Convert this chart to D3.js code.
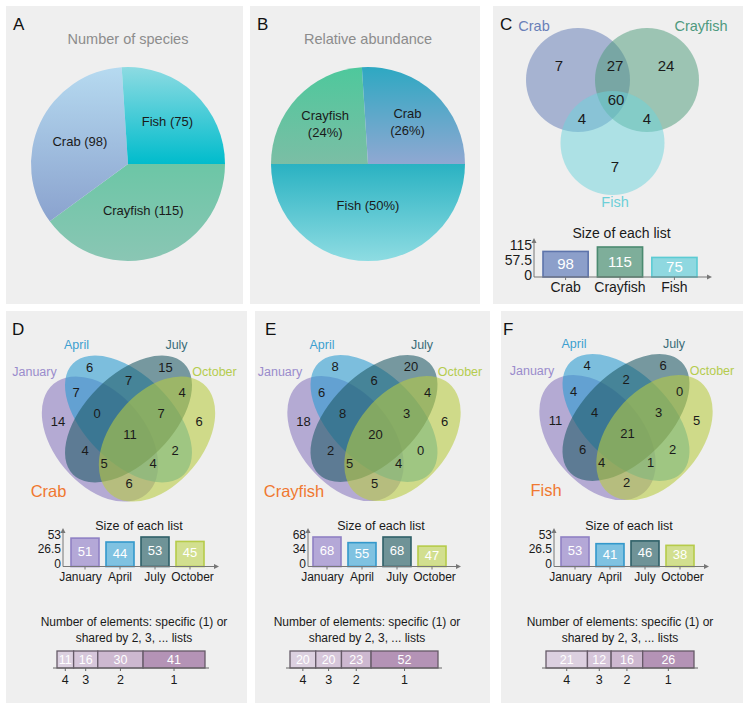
<!DOCTYPE html>
<html>
<head>
<meta charset="utf-8">
<title>Species Venn panels</title>
<script src="https://d3js.org/d3.v7.min.js"></script>
<style>
  body { margin: 0; background: #fff; }
  svg { display: block; font-family: "Liberation Sans", Arial, Helvetica, sans-serif; }
</style>
</head>
<body>
<svg width="749" height="711"></svg>
<script>
// ---------- data ----------
const species = ["Crab", "Crayfish", "Fish"];
const speciesCount = [98, 115, 75];
const abundance = [26, 24, 50];          // percent
const months = ["January", "April", "July", "October"];

// 3-set Venn (C): crab only, crab&crayfish, crayfish only, all, crab&fish, crayfish&fish, fish only
const vennC = [7, 27, 24, 60, 4, 4, 7];
const sizeTicksC = [0, 57.5, 115];

// 4-set Venn regions, in this order:
// Apr, Jul, Apr&Jul, Jan, Jan&Apr, Jul&Oct, Oct, Jan&Apr&Jul, Apr&Jul&Oct,
// all four, Jan&Jul, Apr&Oct, Jan&Jul&Oct, Jan&Apr&Oct, Jan&Oct
const crabVenn     = [6, 15, 7, 14, 7, 4, 6, 0, 7, 11, 4, 2, 5, 4, 6];
const crayfishVenn = [8, 20, 6, 18, 6, 4, 6, 8, 3, 20, 2, 0, 5, 4, 5];
const fishVenn     = [4, 6, 2, 11, 4, 0, 5, 4, 3, 21, 6, 2, 4, 1, 2];

const crabSizes = [51, 44, 53, 45];
const crayfishSizes = [68, 55, 68, 47];
const fishSizes = [53, 41, 46, 38];
const crabTicks = [0, 26.5, 53];
const crayfishTicks = [0, 34, 68];
const fishTicks = [0, 26.5, 53];

const sharedBy = ["4", "3", "2", "1"];
const crabShared = [11, 16, 30, 41];
const crayfishShared = [20, 20, 23, 52];
const fishShared = [21, 12, 16, 26];

// ---------- styling ----------
const monthText = ["#9a8ccc", "#3d9fd0", "#3b6c78", "#b5cc4e"];
const monthFill = ["#8a78c0", "#2a9bd0", "#1f5a66", "#b8cc40"];
const monthBar = ["#b4a8d7", "#7fc2e1", "#6f9397", "#d2df8f"];
const monthBarStroke = ["#8f80c4", "#3498cb", "#2f6068", "#b6cb4a"];
const sharedFill = ["#dcd0e0", "#d6c6da", "#cdb8d0", "#b493b6"];

const svg = d3.select("svg");
const defs = svg.append("defs");

// panel backgrounds
const panels = [
  {id: "A", x: 6, y: 6, w: 237, h: 298, lx: 13},
  {id: "B", x: 250, y: 6, w: 230, h: 298, lx: 257},
  {id: "C", x: 493, y: 6, w: 250, h: 298, lx: 500},
  {id: "D", x: 6, y: 311, w: 241, h: 392, lx: 12},
  {id: "E", x: 255, y: 311, w: 235, h: 392, lx: 265},
  {id: "F", x: 501, y: 311, w: 242, h: 392, lx: 503}
];
svg.selectAll("rect.panel").data(panels).enter().append("rect")
  .attr("class", "panel")
  .attr("x", d => d.x).attr("y", d => d.y)
  .attr("width", d => d.w).attr("height", d => d.h)
  .attr("fill", "#efefef");
svg.selectAll("text.plabel").data(panels).enter().append("text")
  .attr("class", "plabel")
  .attr("x", d => d.lx).attr("y", d => d.y + 24)
  .attr("font-size", 17).attr("fill", "#111")
  .text(d => d.id);

// ---------- pies (A, B) ----------
function sectorCentroid(d, r) {
  const a = d.endAngle - d.startAngle, m = (d.startAngle + d.endAngle) / 2;
  const dist = 4 * r * Math.sin(a / 2) / (3 * a);
  return [dist * Math.sin(m), -dist * Math.cos(m)];
}

function drawPie(o) {
  const g = svg.append("g").attr("transform", `translate(${o.cx},${o.cy})`);
  svg.append("text")
    .attr("x", o.cx).attr("y", 44)
    .attr("text-anchor", "middle").attr("font-size", 14.5).attr("fill", "#8c8c8c")
    .text(o.title);
  const pie = d3.pie().sort(null).value(d => d.v)
    .startAngle(Math.PI / 2).endAngle(Math.PI / 2 + 2 * Math.PI);
  const arc = d3.arc().innerRadius(0).outerRadius(o.r);
  const arcs = pie(o.items);
  arcs.forEach((d, i) => {
    const id = `${o.key}-grad-${i}`;
    const lg = defs.append("linearGradient").attr("id", id)
      .attr("x1", 0).attr("y1", 0).attr("x2", 0).attr("y2", 1);
    lg.append("stop").attr("offset", "0%").attr("stop-color", d.data.c[0]);
    lg.append("stop").attr("offset", "100%").attr("stop-color", d.data.c[1]);
  });
  g.selectAll("path").data(arcs).enter().append("path")
    .attr("d", arc)
    .attr("fill", (d, i) => `url(#${o.key}-grad-${i})`);
  arcs.forEach(d => {
    const [x, y] = sectorCentroid(d, o.r);
    const lines = d.data.lines;
    const t = g.append("text").attr("text-anchor", "middle")
      .attr("font-size", 13).attr("fill", "#1a1a1a");
    lines.forEach((ln, k) => {
      t.append("tspan").attr("x", x)
        .attr("y", y + 4.5 + (k - (lines.length - 1) / 2) * 17)
        .text(ln);
    });
  });
}

const pieAColors = {
  Crayfish: ["#6cc6a6", "#8ac6b4"],
  Crab: ["#b6daf0", "#8aa2ce"],
  Fish: ["#8ddbe2", "#00bccc"]
};
const orderA = ["Crayfish", "Crab", "Fish"];
drawPie({
  key: "pa", cx: 128, cy: 164, r: 97, title: "Number of species",
  items: orderA.map(n => {
    const v = speciesCount[species.indexOf(n)];
    return {v, c: pieAColors[n], lines: [`${n} (${v})`]};
  })
});

const pieBColors = {
  Fish: ["#2ab2c2", "#8edce2"],
  Crayfish: ["#4ec89c", "#7bbea5"],
  Crab: ["#2ea8c2", "#90a8d2"]
};
const orderB = ["Fish", "Crayfish", "Crab"];
drawPie({
  key: "pb", cx: 368, cy: 164, r: 97, title: "Relative abundance",
  items: orderB.map(n => {
    const v = abundance[species.indexOf(n)];
    return {v, c: pieBColors[n], lines: v >= 45 ? [`${n} (${v}%)`] : [n, `(${v}%)`]};
  })
});

// ---------- axes helper for the "size of each list" bar charts ----------
function arrowUp(g, x, y) {
  g.append("path").attr("d", `M${x - 2.5},${y + 5}L${x},${y}L${x + 2.5},${y + 5}Z`).attr("fill", "#777");
}
function arrowRight(g, x, y) {
  g.append("path").attr("d", `M${x - 5},${y - 2.5}L${x},${y}L${x - 5},${y + 2.5}Z`).attr("fill", "#777");
}

function sizeChart(o) {
  const g = svg.append("g");
  const x = d3.scaleBand().domain(o.names).range([o.barX, o.barEnd]).paddingInner(o.pad);
  const y = d3.scaleLinear().domain([0, d3.max(o.ticks)]).range([o.base, o.top]);
  const nudge = o.nudge || o.names.map(() => 0);
  g.append("text").attr("x", (o.barX + o.barEnd) / 2 + 1.5).attr("y", o.titleY)
    .attr("text-anchor", "middle").attr("font-size", o.titleFs).attr("fill", "#1a1a1a")
    .text("Size of each list");
  g.selectAll("rect").data(o.values).enter().append("rect")
    .attr("x", (d, i) => x(o.names[i]))
    .attr("y", d => y(d))
    .attr("width", x.bandwidth())
    .attr("height", d => o.base - y(d))
    .attr("fill", (d, i) => o.fills[i])
    .attr("stroke", (d, i) => o.strokes[i])
    .attr("stroke-width", 1.6);
  g.selectAll("text.val").data(o.values).enter().append("text")
    .attr("class", "val")
    .attr("x", (d, i) => x(o.names[i]) + x.bandwidth() / 2)
    .attr("y", d => (y(d) + o.base) / 2 - 1)
    .attr("dominant-baseline", "central")
    .attr("text-anchor", "middle").attr("font-size", o.valFs).attr("fill", "#fff")
    .text(d => d);
  // axes
  g.append("line").attr("x1", o.axisX).attr("x2", o.axisX)
    .attr("y1", o.base).attr("y2", o.top - 6).attr("stroke", "#777");
  arrowUp(g, o.axisX, o.top - 9);
  g.append("line").attr("x1", o.axisX).attr("x2", o.barEnd + 12)
    .attr("y1", o.base).attr("y2", o.base).attr("stroke", "#777");
  arrowRight(g, o.barEnd + 15, o.base);
  g.selectAll("line.tk").data(o.names).enter().append("line")
    .attr("class", "tk")
    .attr("x1", d => x(d) + x.bandwidth() / 2).attr("x2", d => x(d) + x.bandwidth() / 2)
    .attr("y1", o.base).attr("y2", o.base + 3).attr("stroke", "#777");
  g.selectAll("text.yt").data(o.ticks).enter().append("text")
    .attr("class", "yt")
    .attr("x", o.axisX - 2).attr("y", d => y(d) - 2.5)
    .attr("dominant-baseline", "central")
    .attr("text-anchor", "end").attr("font-size", o.tickFs).attr("fill", "#1a1a1a")
    .text(d => d);
  g.selectAll("text.xt").data(o.names).enter().append("text")
    .attr("class", "xt")
    .attr("x", (d, i) => x(d) + x.bandwidth() / 2 + nudge[i]).attr("y", o.base + o.catDy)
    .attr("text-anchor", "middle").attr("font-size", o.catFs).attr("fill", "#1a1a1a")
    .text(d => d);
}

// ---------- C: 3-set Venn ----------
const cColors = ["#5d78b4", "#4a9a78", "#6cd4dc"];
const cText = ["#6a80b8", "#4e9a7e", "#6dcfd8"];
const cCircles = [
  {cx: 578, cy: 80}, {cx: 647, cy: 80}, {cx: 612.5, cy: 143}
];
const cRegionPos = [[559, 65], [615, 65], [666, 65], [616, 99], [582, 118], [647, 118], [615, 166]];
svg.append("g").selectAll("circle").data(cCircles).enter().append("circle")
  .attr("cx", d => d.cx).attr("cy", d => d.cy).attr("r", 52)
  .attr("fill", (d, i) => cColors[i]).attr("fill-opacity", 0.5);
svg.append("g").selectAll("text").data(vennC).enter().append("text")
  .attr("x", (d, i) => cRegionPos[i][0]).attr("y", (d, i) => cRegionPos[i][1])
  .attr("dominant-baseline", "central").attr("text-anchor", "middle")
  .attr("font-size", 15).attr("fill", "#1a1a1a")
  .text(d => d);
const cLabelPos = [[534, 26], [701, 26], [615, 202]];
svg.append("g").selectAll("text").data(species).enter().append("text")
  .attr("x", (d, i) => cLabelPos[i][0]).attr("y", (d, i) => cLabelPos[i][1])
  .attr("dominant-baseline", "central").attr("text-anchor", "middle")
  .attr("font-size", 14.5).attr("fill", (d, i) => cText[i])
  .text(d => d);

sizeChart({
  names: species, values: speciesCount, ticks: sizeTicksC,
  axisX: 534, barX: 543, barEnd: 697, pad: 0.17, base: 277, top: 247,
  fills: ["#8c9fca", "#7eae9a", "#8fd8e0"], strokes: ["#5d74ab", "#4b8a70", "#5ccbd3"],
  titleY: 238, titleFs: 14, valFs: 15, tickFs: 14, catFs: 14, catDy: 15
});

// ---------- D, E, F: 4-set Venn + charts ----------
const venn4Shapes = [ // January, April, July, October (relative to venn centre)
  {dx: -28.5, dy: 20, rx: 72, ry: 46, rot: 50},
  {dx: 0, dy: 0, rx: 78.5, ry: 43.6, rot: 45},
  {dx: 0, dy: 0, rx: 78.5, ry: 43.6, rot: -45},
  {dx: 28.5, dy: 20, rx: 72, ry: 46, rot: -50}
];
const venn4LabelPos = [
  [-39, -52], [37, -52], [0, -38.5], [-70.5, 2.5], [-52.5, -26.5], [53.5, -26.5], [70.5, 2.5],
  [-31.5, -5.5], [32.5, -5.5], [1.5, 15.5], [-43.5, 31.5], [46.5, 31.5], [-24.5, 44.5],
  [24.5, 44.5], [0.5, 64.5]
];
const monthLabelPos = [[-94, -47], [-52, -74], [48, -74], [86, -47]];

const bottomPanels = [
  {name: "Crab", venn: crabVenn, sizes: crabSizes, ticks: crabTicks, shared: crabShared,
   cx: 128.5, cy: 419, axisX: 63, barX: 71, textX: 134, stackX: 57},
  {name: "Crayfish", venn: crayfishVenn, sizes: crayfishSizes, ticks: crayfishTicks, shared: crayfishShared,
   cx: 374, cy: 418.5, axisX: 308, barX: 313, textX: 367, stackX: 290},
  {name: "Fish", venn: fishVenn, sizes: fishSizes, ticks: fishTicks, shared: fishShared,
   cx: 626, cy: 417.5, axisX: 554, barX: 561, textX: 620, stackX: 546}
];

bottomPanels.forEach(p => {
  const g = svg.append("g").attr("transform", `translate(${p.cx},${p.cy})`);
  g.selectAll("ellipse").data(venn4Shapes).enter().append("ellipse")
    .attr("transform", d => `translate(${d.dx},${d.dy}) rotate(${d.rot})`)
    .attr("rx", d => d.rx).attr("ry", d => d.ry)
    .attr("fill", (d, i) => monthFill[i]).attr("fill-opacity", 0.58);
  g.selectAll("text.cnt").data(p.venn).enter().append("text")
    .attr("class", "cnt")
    .attr("x", (d, i) => venn4LabelPos[i][0]).attr("y", (d, i) => venn4LabelPos[i][1])
    .attr("dominant-baseline", "central").attr("text-anchor", "middle")
    .attr("font-size", 13).attr("fill", "#1a1a1a")
    .text(d => d);
  g.selectAll("text.mon").data(months).enter().append("text")
    .attr("class", "mon")
    .attr("x", (d, i) => monthLabelPos[i][0]).attr("y", (d, i) => monthLabelPos[i][1])
    .attr("dominant-baseline", "central").attr("text-anchor", "middle")
    .attr("font-size", 12.5).attr("fill", (d, i) => monthText[i])
    .text(d => d);
  g.append("text").attr("x", -80).attr("y", 72)
    .attr("dominant-baseline", "central").attr("text-anchor", "middle")
    .attr("font-size", 16.5).attr("fill", "#f07830")
    .text(p.name);

  sizeChart({
    names: months, values: p.sizes, ticks: p.ticks,
    axisX: p.axisX, barX: p.barX, barEnd: p.barX + 133, pad: 0.2, base: 566.5, top: 537,
    fills: monthBar, strokes: monthBarStroke, nudge: [-4.5, 0, 0, 2.5],
    titleY: 529.5, titleFs: 12.5, valFs: 13, tickFs: 12, catFs: 12, catDy: 14.5
  });

  // shared-by stacked bar
  const sg = svg.append("g");
  sg.append("text").attr("x", p.textX).attr("y", 625.5)
    .attr("text-anchor", "middle").attr("font-size", 12).attr("fill", "#1a1a1a")
    .text("Number of elements: specific (1) or");
  sg.append("text").attr("x", p.textX).attr("y", 642)
    .attr("text-anchor", "middle").attr("font-size", 12).attr("fill", "#1a1a1a")
    .text("shared by 2, 3, ... lists");
  const total = d3.sum(p.shared);
  const sx = d3.scaleLinear().domain([0, total]).range([p.stackX, p.stackX + 148]);
  const cum = d3.cumsum(p.shared);
  const segs = p.shared.map((v, i) => ({v, lvl: sharedBy[i], x0: cum[i] - v, x1: cum[i], i}));
  sg.selectAll("rect").data(segs).enter().append("rect")
    .attr("x", d => sx(d.x0)).attr("y", 651)
    .attr("width", d => sx(d.x1) - sx(d.x0)).attr("height", 17)
    .attr("fill", d => sharedFill[d.i]).attr("stroke", "#665a68").attr("stroke-width", 1.3);
  sg.selectAll("text.sv").data(segs).enter().append("text")
    .attr("class", "sv")
    .attr("x", d => (sx(d.x0) + sx(d.x1)) / 2).attr("y", 659.5)
    .attr("dominant-baseline", "central").attr("text-anchor", "middle")
    .attr("font-size", 12.5).attr("fill", "#fff")
    .text(d => d.v);
  sg.append("line").attr("x1", p.stackX - 4).attr("x2", p.stackX + 152)
    .attr("y1", 668).attr("y2", 668).attr("stroke", "#666");
  sg.selectAll("line.tk").data(segs).enter().append("line")
    .attr("class", "tk")
    .attr("x1", d => (sx(d.x0) + sx(d.x1)) / 2).attr("x2", d => (sx(d.x0) + sx(d.x1)) / 2)
    .attr("y1", 668).attr("y2", 671).attr("stroke", "#666");
  sg.selectAll("text.lv").data(segs).enter().append("text")
    .attr("class", "lv")
    .attr("x", d => (sx(d.x0) + sx(d.x1)) / 2).attr("y", 679.5)
    .attr("dominant-baseline", "central").attr("text-anchor", "middle")
    .attr("font-size", 12.5).attr("fill", "#1a1a1a")
    .text(d => d.lvl);
});
</script>
</body>
</html>
